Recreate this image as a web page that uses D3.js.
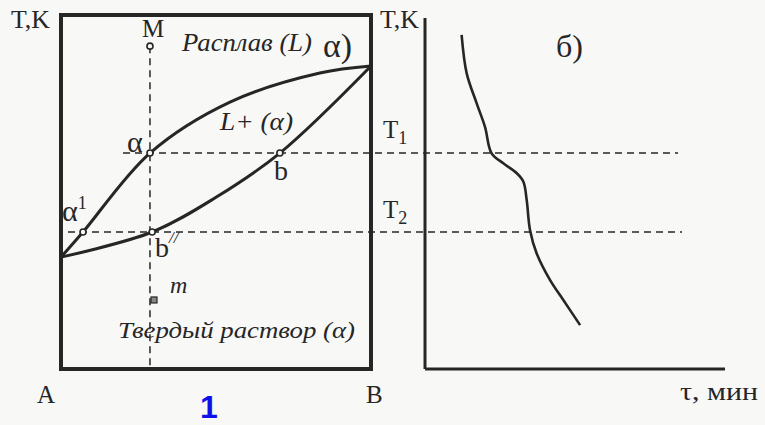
<!DOCTYPE html>
<html><head><meta charset="utf-8">
<script src="https://cdn.jsdelivr.net/npm/d3@7"></script>
<style>
html,body{margin:0;padding:0;background:#f8f8f6;}
svg{display:block;}
</style></head>
<body>
<svg id="chart" width="765" height="425"></svg>
<script>
// Phase diagram A–B with complete solid solubility: composition (% B) vs relative temperature
const liquidus = [[0,31.6],[7.1,38.7],[28.7,61.0],[54.5,75.4],[83.5,83.6],[100,85.6]];
const solidus  = [[0,31.6],[29.4,38.7],[50,48.5],[70.6,61.0],[100,85.6]];
// Cooling curve of alloy M: time (min) vs relative temperature
const cooling  = [[1.22,94.4],[1.39,83.5],[1.72,75.1],[2.0,68.4],[2.22,60.9],[2.61,58.1],[3.06,55.3],[3.28,52.9],[3.39,47.7],[3.5,39.3],[3.72,32.7],[4.17,25.1],[4.61,19.5],[5.17,12.4]];
const T1 = 61.0, T2 = 38.7;
const alloyX = 28.7;
const pointsRound = [{x:alloyX,T:91.2},{x:alloyX,T:T1},{x:70.6,T:T1},{x:7.1,T:T2},{x:29.4,T:T2}];
const pointM2 = {x:30, T:19.5};

const svg = d3.select("#chart");
const x = d3.scaleLinear().domain([0,100]).range([61,371]);
const y = d3.scaleLinear().domain([0,100]).range([369,15]);
const t = d3.scaleLinear().domain([0,10]).range([425,725]);

const ink = "#262626";
const serif = "Liberation Serif, Times New Roman, DejaVu Serif, serif";

// frame of the phase diagram
svg.append("rect").attr("x",x(0)).attr("y",y(100)).attr("width",x(100)-x(0)).attr("height",y(0)-y(100))
  .attr("fill","none").attr("stroke",ink).attr("stroke-width",4);

// dashed construction lines
const dash = "7,5";
svg.append("line").attr("x1",x(alloyX)).attr("x2",x(alloyX)).attr("y1",y(91.2)).attr("y2",y(0))
  .attr("stroke",ink).attr("stroke-width",1.5).attr("stroke-dasharray",dash);
svg.append("line").attr("x1",123).attr("x2",678).attr("y1",y(T1)).attr("y2",y(T1))
  .attr("stroke",ink).attr("stroke-width",1.5).attr("stroke-dasharray",dash);
svg.append("line").attr("x1",68).attr("x2",682).attr("y1",y(T2)).attr("y2",y(T2))
  .attr("stroke",ink).attr("stroke-width",1.5).attr("stroke-dasharray",dash);

// liquidus and solidus
const lineD = d3.line().x(d=>x(d[0])).y(d=>y(d[1])).curve(d3.curveCatmullRom.alpha(0.5));
svg.append("path").attr("d",lineD(liquidus)).attr("fill","none").attr("stroke",ink).attr("stroke-width",3);
svg.append("path").attr("d",lineD(solidus)).attr("fill","none").attr("stroke",ink).attr("stroke-width",3);

// marked points
svg.selectAll("circle.pt").data(pointsRound).join("circle").attr("class","pt")
  .attr("cx",d=>x(d.x)).attr("cy",d=>y(d.T)).attr("r",3)
  .attr("fill","#f8f8f6").attr("stroke",ink).attr("stroke-width",1.6);
svg.append("rect").attr("x",x(pointM2.x)-3).attr("y",y(pointM2.T)-3).attr("width",6).attr("height",6)
  .attr("fill","#888").attr("stroke",ink).attr("stroke-width",1.2);

// cooling curve axes
svg.append("line").attr("x1",t(0)).attr("x2",t(0)).attr("y1",18).attr("y2",y(0)).attr("stroke",ink).attr("stroke-width",3);
svg.append("line").attr("x1",t(0)).attr("x2",t(10)).attr("y1",y(0)).attr("y2",y(0)).attr("stroke",ink).attr("stroke-width",3);
const lineC = d3.line().x(d=>t(d[0])).y(d=>y(d[1])).curve(d3.curveCatmullRom);
svg.append("path").attr("d",lineC(cooling)).attr("fill","none").attr("stroke",ink).attr("stroke-width",2.6);

// labels
function txt(s,xp,yp,size,opts={}){
  const el = svg.append("text").attr("x",xp).attr("y",yp).attr("font-size",size).attr("fill",opts.fill||ink)
    .attr("font-family",opts.family||serif)
    .attr("text-anchor",opts.anchor||"start");
  if(opts.italic) el.attr("font-style","italic");
  if(opts.bold) el.attr("font-weight","bold");
  if(opts.len) el.attr("textLength",opts.len).attr("lengthAdjust","spacingAndGlyphs");
  el.text(s);
  return el;
}
txt("T,K",11,28,26,{len:39});
txt("M",153,37,25,{anchor:"middle"});
txt("Расплав (L)",182,51,25,{italic:true,len:130});
txt("α)",323,57,34,{len:29});
txt("L+ (α)",220,130,25,{italic:true,len:73});
txt("α",127,152,30);
txt("b",274,180,28);
const a1 = txt("α",62,221,30); a1.append("tspan").attr("dy",-12).attr("font-size",18).text("1");
const b2 = txt("b",155,257,28); b2.append("tspan").attr("dy",-14).attr("font-size",17).attr("font-style","italic").text("//");
txt("m",170,293,24,{italic:true});
txt("Твердый раствор (α)",118,338,24,{italic:true,len:237});
txt("A",37,403,25);
txt("B",366,403,25);
txt("1",200,418,32,{bold:true,fill:"#1010e8",family:"Liberation Sans, Arial, sans-serif"});
txt("T,K",380,28,26,{len:39});
const t1 = txt("T",383,138,25); t1.append("tspan").attr("dy",6).attr("font-size",18).text("1");
const t2 = txt("T",383,218,25); t2.append("tspan").attr("dy",6).attr("font-size",18).text("2");
txt("б)",556,57,32);
txt("τ, мин",680,400,25,{len:78});
</script>
</body></html>
